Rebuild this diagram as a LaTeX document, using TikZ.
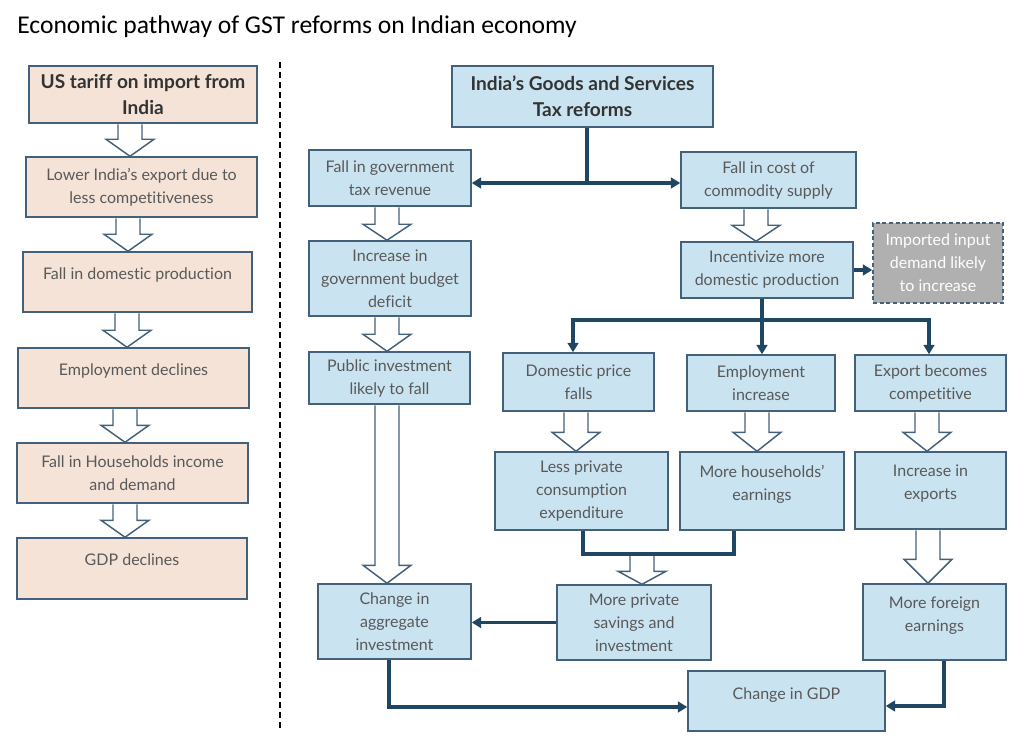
\documentclass[tikz,border=0pt]{standalone}
\usepackage{fontspec}
\setmainfont{Lato}[Ligatures={NoCommon}]
\newfontfamily\titlefont{Carlito}
\usetikzlibrary{arrows.meta,calc}
\definecolor{bluefill}{HTML}{C9E3F1}
\definecolor{peachfill}{HTML}{F5E3D7}
\definecolor{edge}{HTML}{44617C}
\definecolor{conncol}{HTML}{1F4663}
\definecolor{txt}{HTML}{595959}
\definecolor{boldtxt}{HTML}{333333}
\definecolor{grayfill}{HTML}{B0B0B0}
\tikzset{
  x=0.75pt, y=-0.75pt,
  every node/.style={font=\fontsize{12}{17.25}\selectfont, text=txt},
  box/.style={draw=edge, line width=1.1pt, align=center, inner sep=0pt},
  bluebox/.style={box, fill=bluefill},
  peachbox/.style={box, fill=peachfill},
  impbox/.style={box, fill=grayfill, dash pattern=on 3pt off 2pt, text=white},
  headtxt/.style={font=\bfseries\fontsize{14.3}{19.5}\selectfont, text=boldtxt},
  lift/.style={text depth=#1},
  conn/.style={draw=conncol, line width=2.5pt, line join=miter},
  arr/.style={conn, -{Triangle[length=7pt,width=8pt]}},
  hollow/.style={draw=edge, fill=white, line width=1.1pt, line join=miter},
  divider/.style={draw=black, line width=1.5pt, dash pattern=on 4.5pt off 3pt},
}
% box: [extra]{x1}{y1}{x2}{y2}{name}{style}{text}
\newcommand{\bx}[8][]{\node[#7,#1,minimum width={(#4-#2)*0.75pt},minimum height={(#5-#3)*0.75pt}] (#6) at ({(#2+#4)/2},{(#3+#5)/2}) {#8};}
% hollow arrow: [head length px]{x px}{(from)}{(to)}
\newcommand{\harrow}[4][17]{%
  \draw[hollow] let \p0=(#2,0), \p1=#3, \p2=#4 in
   (\x0-9pt,\y1-0.5pt) -- (\x0-9pt,\y2+#1*0.75pt) -- (\x0-18pt,\y2+#1*0.75pt) -- (\x0,\y2)
   -- (\x0+18pt,\y2+#1*0.75pt) -- (\x0+9pt,\y2+#1*0.75pt) -- (\x0+9pt,\y1-0.5pt);}
\begin{document}
\begin{tikzpicture}
\useasboundingbox[fill=white] (0,0) rectangle (1024,748);
\node[font=\titlefont\fontsize{19.2}{23}\selectfont, text=black, anchor=west, inner sep=0pt] (title) at (17,27) {Economic pathway of GST reforms on Indian economy};

% divider
\draw[divider] (280,62) -- (280,732);

% left column
\bx[headtxt]{29}{66}{257}{123}{l1}{peachbox}{US tariff on import from\\India}
\bx{26}{157}{257}{217}{l2}{peachbox}{Lower India’s export due to\\less competitiveness}
\bx[lift=13pt]{23}{252}{252}{312}{l3}{peachbox}{Fall in domestic production}
\bx[lift=13pt]{18}{348}{249}{408}{l4}{peachbox}{Employment declines}
\bx{17}{443}{248}{503}{l5}{peachbox}{Fall in Households income\\and demand}
\bx[lift=13pt]{17}{538}{247}{599}{l6}{peachbox}{GDP declines}

% right part
\bx[headtxt]{452}{66}{713}{127}{gst}{bluebox}{India’s Goods and Services\\Tax reforms}
\bx{309}{150}{471}{206}{fgt}{bluebox}{Fall in government\\tax revenue}
\bx{681}{152}{856}{208}{fcs}{bluebox}{Fall in cost of\\commodity supply}
\bx{309}{241}{471}{316}{igb}{bluebox}{Increase in\\government budget\\deficit}
\bx{681}{242}{853}{298}{imd}{bluebox}{Incentivize more\\domestic production}
\bx{873}{223}{1003}{303}{imp}{impbox}{Imported input\\demand likely\\to increase}
\bx{309}{352}{470}{404}{pil}{bluebox}{Public investment\\likely to fall}
\bx{503}{353}{654}{411}{dpf}{bluebox}{Domestic price\\falls}
\bx{687}{355}{835}{411}{ei}{bluebox}{Employment\\increase}
\bx{855}{355}{1006}{411}{ebc}{bluebox}{Export becomes\\competitive}
\bx{495}{452}{668}{530}{lpc}{bluebox}{Less private\\consumption\\expenditure}
\bx[lift=12pt]{680}{452}{844}{530}{mhe}{bluebox}{More households’\\earnings}
\bx[lift=13pt]{855}{452}{1006}{529}{iie}{bluebox}{Increase in\\exports}
\bx{318}{584}{471}{659}{cai}{bluebox}{Change in\\aggregate\\investment}
\bx{557}{585}{711}{660}{mps}{bluebox}{More private\\savings and\\investment}
\bx[lift=12pt]{863}{584}{1006}{660}{mfe}{bluebox}{More foreign\\earnings}
\bx[lift=11pt]{688}{671}{885}{731}{gdp}{bluebox}{Change in GDP}

% hollow arrows, left column
\harrow{130}{(l1.south)}{(l2.north)}
\harrow{128}{(l2.south)}{(l3.north)}
\harrow{127}{(l3.south)}{(l4.north)}
\harrow{125}{(l4.south)}{(l5.north)}
\harrow{125}{(l5.south)}{(l6.north)}

% hollow arrows, right part
\harrow[16]{387}{(fgt.south)}{(igb.north)}
\harrow{387}{(igb.south)}{(pil.north)}
\harrow[18]{387}{(pil.south)}{(cai.north)}
\harrow[16]{756}{(fcs.south)}{(imd.north)}
\harrow[19]{576}{(dpf.south)}{(lpc.north)}
\harrow[19]{757}{(ei.south)}{(mhe.north)}
\harrow[19]{927}{(ebc.south)}{(iie.north)}
\harrow[24]{928}{(iie.south)}{(mfe.north)}

% connectors
\coordinate (j1) at (587,183);
\draw[conn] (gst.south -| j1) -- (j1);
\draw[arr] (j1) -- (fgt.east |- j1);
\draw[arr] (j1) -- (fcs.west |- j1);

\draw[arr] (imd.east) -- (imp.west |- imd.east);

\coordinate (j2) at (762,320);
\coordinate (xl) at (573,0);
\coordinate (xr) at (929,0);
\draw[conn] (imd.south -| j2) -- (j2);
\draw[arr] (j2) -| (dpf.north -| xl);
\draw[arr] (j2) -- (ei.north -| j2);
\draw[arr] (j2) -| (ebc.north -| xr);

\coordinate (b1) at (583,554);
\coordinate (b2) at (734,554);
\draw[conn] (lpc.south -| b1) -- (b1) -- (b2) -- (mhe.south -| b2);
\coordinate (bar) at (642,555.5);
\harrow[13]{642}{(bar)}{(mps.north)}

\draw[arr] (mps.west) -- (cai.east |- mps.west);

\coordinate (c1) at (389,707);
\draw[arr] (cai.south -| c1) -- (c1) -- (gdp.west |- c1);
\coordinate (c2) at (944,706);
\draw[arr] (mfe.south -| c2) -- (c2) -- (gdp.east |- c2);
\end{tikzpicture}
\end{document}
